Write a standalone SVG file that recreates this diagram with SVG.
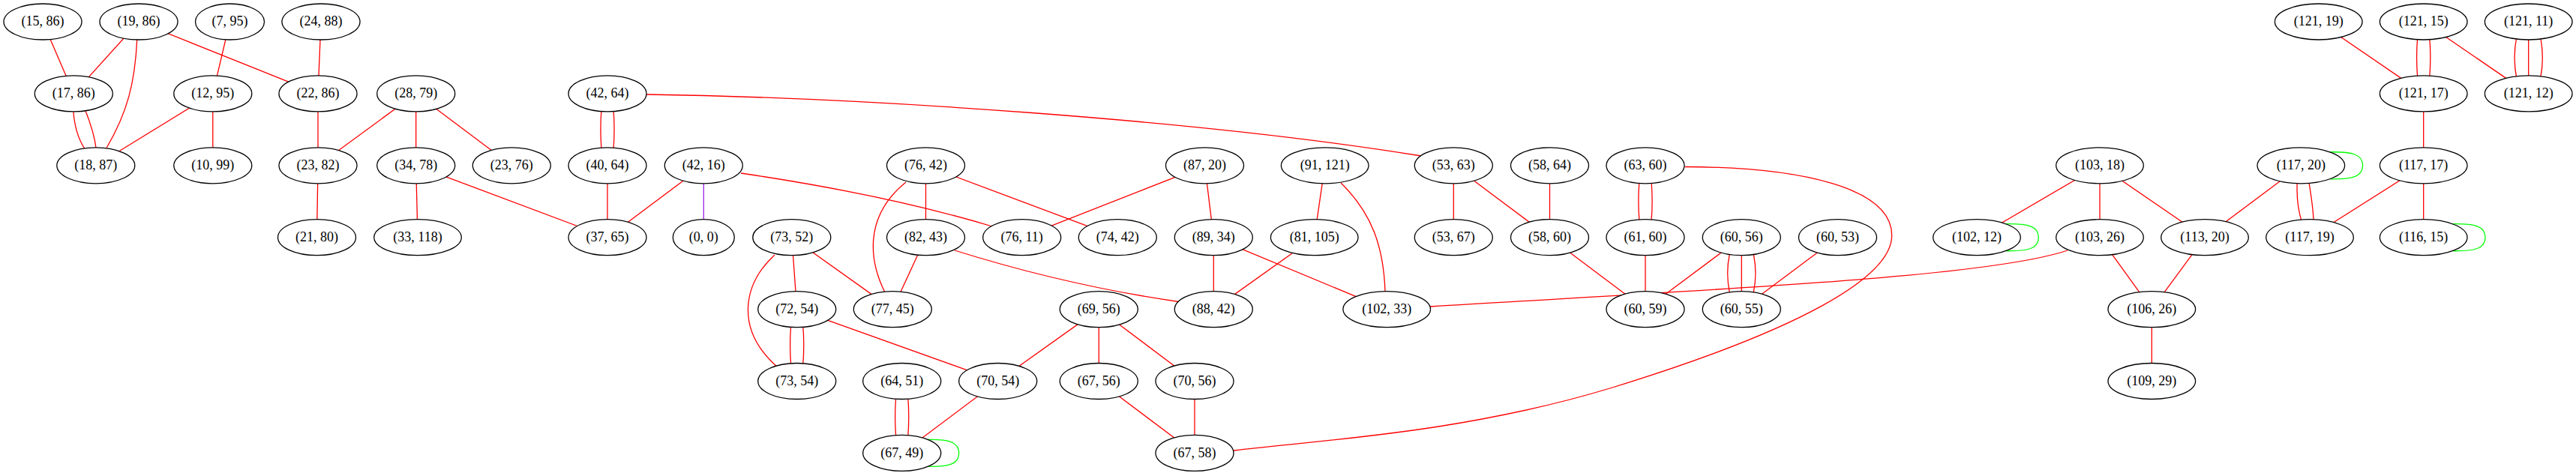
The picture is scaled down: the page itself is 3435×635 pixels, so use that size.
<svg xmlns="http://www.w3.org/2000/svg" width="3435" height="635" viewBox="0 0 3435 635">
<style>
.n ellipse{fill:#fff;stroke:#000;stroke-width:1.3}
.n text{font-family:"Liberation Serif","Times New Roman",serif;font-size:18px;text-anchor:middle;fill:#000}
.e path{fill:none;stroke:#ff0000;stroke-width:1.3}
.e path.g{stroke:#00ff00}
.e path.p{stroke:#a020f0}
</style>
<rect width="3435" height="635" fill="#fff"/>
<g id="connectors" class="e">
<path d="M57,29 L98.3,124.9"/>
<path d="M185,29 L98.3,124.9"/>
<path d="M182.7,53 C180,110 170,150 141.7,198"/>
<path d="M185,29 L424,124.9"/>
<path d="M306.5,29 L283.8,124.9"/>
<path d="M428,29 L424,124.9"/>
<path d="M97.7,146 C99,170 104,185 113.3,199"/>
<path d="M113.3,146 C121,165 126,180 128.3,199"/>
<path d="M283.8,124.9 L127.8,220.8"/>
<path d="M283.8,124.9 L283.8,220.8"/>
<path d="M424,124.9 L424,220.8"/>
<path d="M424,220.8 L422.5,316.7"/>
<path d="M554.7,124.9 L424,220.8"/>
<path d="M554.7,124.9 L554.7,220.8"/>
<path d="M554.7,124.9 L682.3,220.8"/>
<path d="M554.7,220.8 L557,316.7"/>
<path d="M554.7,220.8 L810,316.7"/>
<path d="M802,146 C800.5,165 800.5,180 802,199"/>
<path d="M818,146 C819.5,165 819.5,180 818,199"/>
<path d="M810,220.8 L810,316.7"/>
<path d="M938.3,220.8 L810,316.7"/>
<path d="M862,126 C1150,130 1600,160 1895,208"/>
<path class="p" d="M938.3,220.8 L938.3,316.7"/>
<path d="M988,231 C1150,255 1250,280 1323,302"/>
<path d="M1234.5,220.8 L1234.5,316.7"/>
<path d="M1208,243 C1150,290 1160,350 1180,390"/>
<path d="M1234.5,220.8 L1490.3,316.7"/>
<path d="M1234.5,316.7 L1190.3,412.6"/>
<path d="M1273,334 C1340,355 1450,385 1575,403"/>
<path d="M1055.8,316.7 L1062.7,412.6"/>
<path d="M1055.8,316.7 L1190.3,412.6"/>
<path d="M1033,340 C990,380 980,440 1037,490"/>
<path d="M1054.7,434 C1053.2,452 1053.2,468 1054.7,487"/>
<path d="M1070.7,434 C1072.2,452 1072.2,468 1070.7,487"/>
<path d="M1062.7,412.6 L1330.7,508.5"/>
<path d="M1194.7,530 C1193.2,548 1193.2,564 1194.7,583"/>
<path d="M1210.7,530 C1212.2,548 1212.2,564 1210.7,583"/>
<path d="M1330.7,508.5 L1202.7,604.4"/>
<path class="g" d="M1237.1,586.4 C1264.7,585.9 1278.7,589.4 1278.7,604.4 C1278.7,619.4 1264.7,622.9 1237.1,622.4"/>
<path d="M1606.5,220.8 L1362.7,316.7"/>
<path d="M1606.5,220.8 L1618.3,316.7"/>
<path d="M1618.3,316.7 L1618.3,412.6"/>
<path d="M1618.3,316.7 L1849.2,412.6"/>
<path d="M1752.7,316.7 L1618.3,412.6"/>
<path d="M1766.7,220.8 L1752.7,316.7"/>
<path d="M1788,244 C1830,285 1845,330 1847,389"/>
<path d="M1465.3,412.6 L1330.7,508.5"/>
<path d="M1465.3,412.6 L1465.3,508.5"/>
<path d="M1465.3,412.6 L1593,508.5"/>
<path d="M1465.3,508.5 L1593,604.4"/>
<path d="M1593,508.5 L1593,604.4"/>
<path d="M2246.7,222.5 C2400,223 2522.7,250 2522.7,314 C2522.7,370 2400,440 2150,517 C1950,578 1760,587 1645,601"/>
<path d="M1938.3,220.8 L1938.3,316.7"/>
<path d="M1938.3,220.8 L2066.5,316.7"/>
<path d="M2066.5,220.8 L2066.5,316.7"/>
<path d="M2066.5,316.7 L2194,412.6"/>
<path d="M2186,242 C2184.5,260 2184.5,277 2186,295"/>
<path d="M2202,242 C2203.5,260 2203.5,277 2202,295"/>
<path d="M2194,316.7 L2194,412.6"/>
<path d="M2322.3,316.7 L2194,412.6"/>
<path d="M2306.3,339 C2303,355 2303,374 2306.3,390"/>
<path d="M2322.3,339 L2322.3,390"/>
<path d="M2338.3,339 C2341.6,355 2341.6,374 2338.3,390"/>
<path d="M2450.5,316.7 L2322.3,412.6"/>
<path d="M1907,409 C2300,385 2650,370 2757,334"/>
<path d="M2800,220.8 L2636,316.7"/>
<path class="g" d="M2674.5,298.7 C2704.3,298.2 2718.3,301.7 2718.3,316.7 C2718.3,331.7 2704.3,335.2 2674.5,334.7"/>
<path d="M2800,220.8 L2800,316.7"/>
<path d="M2800,220.8 L2940,316.7"/>
<path d="M2800,316.7 L2869.3,412.6"/>
<path d="M2940,316.7 L2869.3,412.6"/>
<path d="M2869.3,412.6 L2869.3,508.5"/>
<path d="M3068.3,220.8 L2940,316.7"/>
<path class="g" d="M3106.8,202.8 C3136.6,202.3 3150.6,205.8 3150.6,220.8 C3150.6,235.8 3136.6,239.3 3106.8,238.8"/>
<path d="M3063.3,242 C3062,265 3065,282 3069.3,296"/>
<path d="M3078.7,242 C3082,262 3085,280 3085,296"/>
<path d="M3231.7,220.8 L3080,316.7"/>
<path d="M3231.7,220.8 L3231.7,316.7"/>
<path class="g" d="M3270.2,298.7 C3300,298.2 3314,301.7 3314,316.7 C3314,331.7 3300,335.2 3270.2,334.7"/>
<path d="M3091.7,29 L3231.7,124.9"/>
<path d="M3223.7,50 C3222.2,67 3222.2,85 3223.7,104"/>
<path d="M3239.7,50 C3241.2,67 3241.2,85 3239.7,104"/>
<path d="M3231.7,29 L3371.7,124.9"/>
<path d="M3355.7,50 C3352.4,67 3352.4,87 3355.7,104"/>
<path d="M3371.7,50 L3371.7,104"/>
<path d="M3387.7,50 C3391,67 3391,87 3387.7,104"/>
<path d="M3231.7,124.9 L3231.7,220.8"/>
</g>
<g id="n15_86" class="n"><ellipse cx="57" cy="29" rx="52" ry="24"/><text x="57" y="34.4">(15, 86)</text></g>
<g id="n19_86" class="n"><ellipse cx="185" cy="29" rx="52" ry="24"/><text x="185" y="34.4">(19, 86)</text></g>
<g id="n7_95" class="n"><ellipse cx="306.5" cy="29" rx="46" ry="24"/><text x="306.5" y="34.4">(7, 95)</text></g>
<g id="n24_88" class="n"><ellipse cx="428" cy="29" rx="52" ry="24"/><text x="428" y="34.4">(24, 88)</text></g>
<g id="n121_19" class="n"><ellipse cx="3091.7" cy="29" rx="58.3" ry="24"/><text x="3091.7" y="34.4">(121, 19)</text></g>
<g id="n121_15" class="n"><ellipse cx="3231.7" cy="29" rx="58.3" ry="24"/><text x="3231.7" y="34.4">(121, 15)</text></g>
<g id="n121_11" class="n"><ellipse cx="3371.7" cy="29" rx="58.3" ry="24"/><text x="3371.7" y="34.4">(121, 11)</text></g>
<g id="n17_86" class="n"><ellipse cx="98.3" cy="124.9" rx="52" ry="24"/><text x="98.3" y="130.3">(17, 86)</text></g>
<g id="n12_95" class="n"><ellipse cx="283.8" cy="124.9" rx="52" ry="24"/><text x="283.8" y="130.3">(12, 95)</text></g>
<g id="n22_86" class="n"><ellipse cx="424" cy="124.9" rx="52" ry="24"/><text x="424" y="130.3">(22, 86)</text></g>
<g id="n28_79" class="n"><ellipse cx="554.7" cy="124.9" rx="52" ry="24"/><text x="554.7" y="130.3">(28, 79)</text></g>
<g id="n42_64" class="n"><ellipse cx="810" cy="124.9" rx="52" ry="24"/><text x="810" y="130.3">(42, 64)</text></g>
<g id="n121_17" class="n"><ellipse cx="3231.7" cy="124.9" rx="58.3" ry="24"/><text x="3231.7" y="130.3">(121, 17)</text></g>
<g id="n121_12" class="n"><ellipse cx="3371.7" cy="124.9" rx="58.3" ry="24"/><text x="3371.7" y="130.3">(121, 12)</text></g>
<g id="n18_87" class="n"><ellipse cx="127.8" cy="220.8" rx="52" ry="24"/><text x="127.8" y="226.2">(18, 87)</text></g>
<g id="n10_99" class="n"><ellipse cx="283.8" cy="220.8" rx="52" ry="24"/><text x="283.8" y="226.2">(10, 99)</text></g>
<g id="n23_82" class="n"><ellipse cx="424" cy="220.8" rx="52" ry="24"/><text x="424" y="226.2">(23, 82)</text></g>
<g id="n34_78" class="n"><ellipse cx="554.7" cy="220.8" rx="52" ry="24"/><text x="554.7" y="226.2">(34, 78)</text></g>
<g id="n23_76" class="n"><ellipse cx="682.3" cy="220.8" rx="52" ry="24"/><text x="682.3" y="226.2">(23, 76)</text></g>
<g id="n40_64" class="n"><ellipse cx="810" cy="220.8" rx="52" ry="24"/><text x="810" y="226.2">(40, 64)</text></g>
<g id="n42_16" class="n"><ellipse cx="938.3" cy="220.8" rx="52" ry="24"/><text x="938.3" y="226.2">(42, 16)</text></g>
<g id="n76_42" class="n"><ellipse cx="1234.5" cy="220.8" rx="52" ry="24"/><text x="1234.5" y="226.2">(76, 42)</text></g>
<g id="n87_20" class="n"><ellipse cx="1606.5" cy="220.8" rx="52" ry="24"/><text x="1606.5" y="226.2">(87, 20)</text></g>
<g id="n91_121" class="n"><ellipse cx="1766.7" cy="220.8" rx="58.3" ry="24"/><text x="1766.7" y="226.2">(91, 121)</text></g>
<g id="n53_63" class="n"><ellipse cx="1938.3" cy="220.8" rx="52" ry="24"/><text x="1938.3" y="226.2">(53, 63)</text></g>
<g id="n58_64" class="n"><ellipse cx="2066.5" cy="220.8" rx="52" ry="24"/><text x="2066.5" y="226.2">(58, 64)</text></g>
<g id="n63_60" class="n"><ellipse cx="2194" cy="220.8" rx="52" ry="24"/><text x="2194" y="226.2">(63, 60)</text></g>
<g id="n103_18" class="n"><ellipse cx="2800" cy="220.8" rx="58.3" ry="24"/><text x="2800" y="226.2">(103, 18)</text></g>
<g id="n117_20" class="n"><ellipse cx="3068.3" cy="220.8" rx="58.3" ry="24"/><text x="3068.3" y="226.2">(117, 20)</text></g>
<g id="n117_17" class="n"><ellipse cx="3231.7" cy="220.8" rx="58.3" ry="24"/><text x="3231.7" y="226.2">(117, 17)</text></g>
<g id="n21_80" class="n"><ellipse cx="422.5" cy="316.7" rx="52" ry="24"/><text x="422.5" y="322.1">(21, 80)</text></g>
<g id="n33_118" class="n"><ellipse cx="557" cy="316.7" rx="58.3" ry="24"/><text x="557" y="322.1">(33, 118)</text></g>
<g id="n37_65" class="n"><ellipse cx="810" cy="316.7" rx="52" ry="24"/><text x="810" y="322.1">(37, 65)</text></g>
<g id="n0_0" class="n"><ellipse cx="938.3" cy="316.7" rx="41" ry="24"/><text x="938.3" y="322.1">(0, 0)</text></g>
<g id="n73_52" class="n"><ellipse cx="1055.8" cy="316.7" rx="52" ry="24"/><text x="1055.8" y="322.1">(73, 52)</text></g>
<g id="n82_43" class="n"><ellipse cx="1234.5" cy="316.7" rx="52" ry="24"/><text x="1234.5" y="322.1">(82, 43)</text></g>
<g id="n76_11" class="n"><ellipse cx="1362.7" cy="316.7" rx="52" ry="24"/><text x="1362.7" y="322.1">(76, 11)</text></g>
<g id="n74_42" class="n"><ellipse cx="1490.3" cy="316.7" rx="52" ry="24"/><text x="1490.3" y="322.1">(74, 42)</text></g>
<g id="n89_34" class="n"><ellipse cx="1618.3" cy="316.7" rx="52" ry="24"/><text x="1618.3" y="322.1">(89, 34)</text></g>
<g id="n81_105" class="n"><ellipse cx="1752.7" cy="316.7" rx="58.3" ry="24"/><text x="1752.7" y="322.1">(81, 105)</text></g>
<g id="n53_67" class="n"><ellipse cx="1938.3" cy="316.7" rx="52" ry="24"/><text x="1938.3" y="322.1">(53, 67)</text></g>
<g id="n58_60" class="n"><ellipse cx="2066.5" cy="316.7" rx="52" ry="24"/><text x="2066.5" y="322.1">(58, 60)</text></g>
<g id="n61_60" class="n"><ellipse cx="2194" cy="316.7" rx="52" ry="24"/><text x="2194" y="322.1">(61, 60)</text></g>
<g id="n60_56" class="n"><ellipse cx="2322.3" cy="316.7" rx="52" ry="24"/><text x="2322.3" y="322.1">(60, 56)</text></g>
<g id="n60_53" class="n"><ellipse cx="2450.5" cy="316.7" rx="52" ry="24"/><text x="2450.5" y="322.1">(60, 53)</text></g>
<g id="n102_12" class="n"><ellipse cx="2636" cy="316.7" rx="58.3" ry="24"/><text x="2636" y="322.1">(102, 12)</text></g>
<g id="n103_26" class="n"><ellipse cx="2800" cy="316.7" rx="58.3" ry="24"/><text x="2800" y="322.1">(103, 26)</text></g>
<g id="n113_20" class="n"><ellipse cx="2940" cy="316.7" rx="58.3" ry="24"/><text x="2940" y="322.1">(113, 20)</text></g>
<g id="n117_19" class="n"><ellipse cx="3080" cy="316.7" rx="58.3" ry="24"/><text x="3080" y="322.1">(117, 19)</text></g>
<g id="n116_15" class="n"><ellipse cx="3231.7" cy="316.7" rx="58.3" ry="24"/><text x="3231.7" y="322.1">(116, 15)</text></g>
<g id="n72_54" class="n"><ellipse cx="1062.7" cy="412.6" rx="52" ry="24"/><text x="1062.7" y="418">(72, 54)</text></g>
<g id="n77_45" class="n"><ellipse cx="1190.3" cy="412.6" rx="52" ry="24"/><text x="1190.3" y="418">(77, 45)</text></g>
<g id="n69_56" class="n"><ellipse cx="1465.3" cy="412.6" rx="52" ry="24"/><text x="1465.3" y="418">(69, 56)</text></g>
<g id="n88_42" class="n"><ellipse cx="1618.3" cy="412.6" rx="52" ry="24"/><text x="1618.3" y="418">(88, 42)</text></g>
<g id="n102_33" class="n"><ellipse cx="1849.2" cy="412.6" rx="58.3" ry="24"/><text x="1849.2" y="418">(102, 33)</text></g>
<g id="n60_59" class="n"><ellipse cx="2194" cy="412.6" rx="52" ry="24"/><text x="2194" y="418">(60, 59)</text></g>
<g id="n60_55" class="n"><ellipse cx="2322.3" cy="412.6" rx="52" ry="24"/><text x="2322.3" y="418">(60, 55)</text></g>
<g id="n106_26" class="n"><ellipse cx="2869.3" cy="412.6" rx="58.3" ry="24"/><text x="2869.3" y="418">(106, 26)</text></g>
<g id="n73_54" class="n"><ellipse cx="1062.7" cy="508.5" rx="52" ry="24"/><text x="1062.7" y="513.9">(73, 54)</text></g>
<g id="n64_51" class="n"><ellipse cx="1202.7" cy="508.5" rx="52" ry="24"/><text x="1202.7" y="513.9">(64, 51)</text></g>
<g id="n70_54" class="n"><ellipse cx="1330.7" cy="508.5" rx="52" ry="24"/><text x="1330.7" y="513.9">(70, 54)</text></g>
<g id="n67_56" class="n"><ellipse cx="1465.3" cy="508.5" rx="52" ry="24"/><text x="1465.3" y="513.9">(67, 56)</text></g>
<g id="n70_56" class="n"><ellipse cx="1593" cy="508.5" rx="52" ry="24"/><text x="1593" y="513.9">(70, 56)</text></g>
<g id="n109_29" class="n"><ellipse cx="2869.3" cy="508.5" rx="58.3" ry="24"/><text x="2869.3" y="513.9">(109, 29)</text></g>
<g id="n67_49" class="n"><ellipse cx="1202.7" cy="604.4" rx="52" ry="24"/><text x="1202.7" y="609.8">(67, 49)</text></g>
<g id="n67_58" class="n"><ellipse cx="1593" cy="604.4" rx="52" ry="24"/><text x="1593" y="609.8">(67, 58)</text></g>
</svg>
